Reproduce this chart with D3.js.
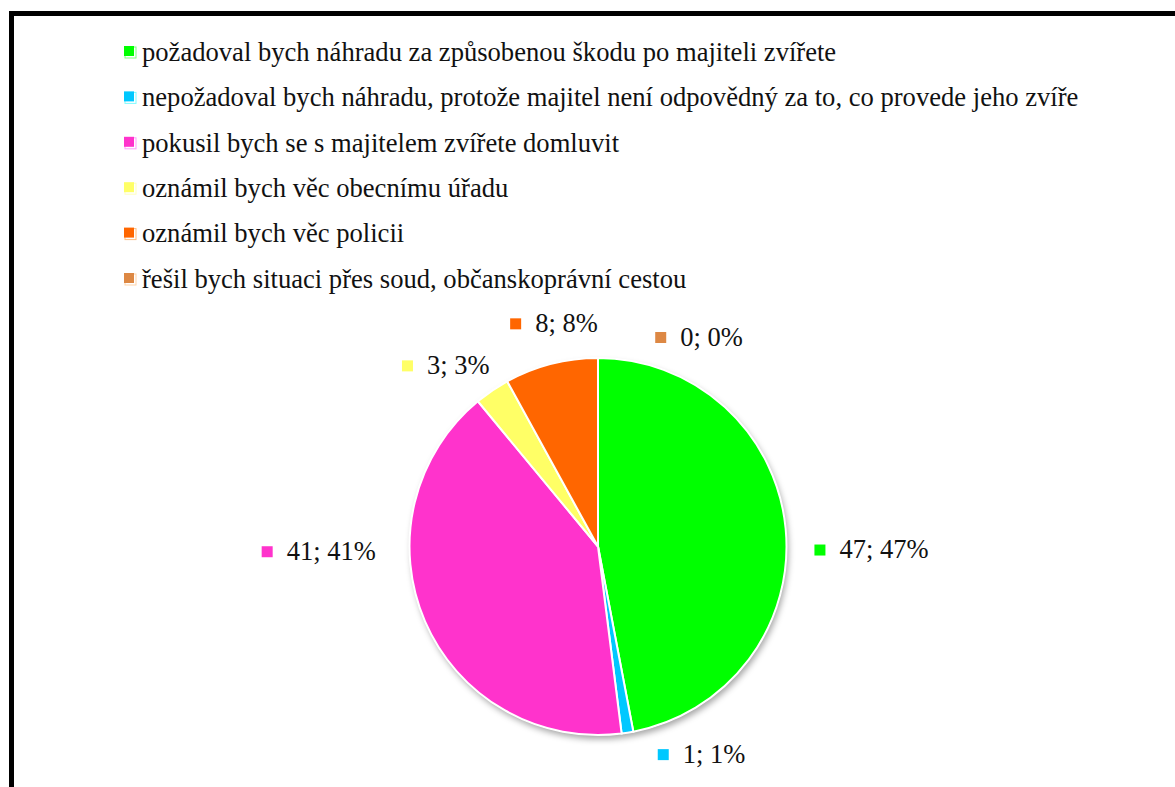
<!DOCTYPE html>
<html>
<head>
<meta charset="utf-8">
<script src="https://cdn.jsdelivr.net/npm/d3@7"></script>
<style>
  body { margin: 0; background: #fff; }
  svg { display: block; }
</style>
</head>
<body>
<div id="chart"></div>
<script>
// data
const categories = [
  "požadoval bych náhradu za způsobenou škodu po majiteli zvířete",
  "nepožadoval bych náhradu, protože majitel není odpovědný za to, co provede jeho zvíře",
  "pokusil bych se s majitelem zvířete domluvit",
  "oznámil bych věc obecnímu úřadu",
  "oznámil bych věc policii",
  "řešil bych situaci přes soud, občanskoprávní cestou"
];
const values = [47, 1, 41, 3, 8, 0];
const colors = ["#00ff00", "#00c8ff", "#ff33cc", "#ffff66", "#ff6600", "#dd8844"];
// label nudges (layout only), relative to the outer label arc
const labelNudge = [[41, 25], [67, -23], [-65, -88], [-21, 12], [14, 3], [101, 24]];

const W = 1175, H = 787;
const cx = 598, cy = 546.5, r = 188.5;
const FONT = "'Liberation Serif', Tinos, 'Times New Roman', 'DejaVu Serif', serif";

const svg = d3.select("#chart").append("svg")
  .attr("width", W).attr("height", H)
  .attr("font-family", FONT);

// frame
svg.append("rect")
  .attr("x", 11.5).attr("y", 13.5)
  .attr("width", 1300).attr("height", 1000)
  .attr("fill", "none").attr("stroke", "#000").attr("stroke-width", 5);

// legend
const legend = svg.append("g").attr("transform", "translate(124,52)");
const rows = legend.selectAll("g").data(categories).enter().append("g")
  .attr("transform", (d, i) => `translate(0,${i * 45.4})`);
rows.append("rect")
  .attr("x", 1).attr("y", -5).attr("width", 11).attr("height", 11)
  .attr("fill", "none").attr("stroke", (d, i) => d3.color(colors[i]).brighter(0.6)).attr("stroke-width", 1)
  .attr("opacity", 0.5);
rows.append("rect")
  .attr("x", 0).attr("y", -6).attr("width", 10).attr("height", 10)
  .attr("fill", (d, i) => colors[i]);
rows.append("text")
  .attr("x", 18).attr("dy", "0.33em")
  .attr("font-family", FONT)
  .attr("font-size", 26.6)
  .attr("fill", "#111")
  .text(d => d);

// shadow
const defs = svg.append("defs");
const f = defs.append("filter").attr("id", "shadow")
  .attr("x", "-20%").attr("y", "-20%").attr("width", "140%").attr("height", "140%");
f.append("feDropShadow").attr("dx", 2).attr("dy", 4).attr("stdDeviation", 3)
  .attr("flood-color", "#000").attr("flood-opacity", 0.35);

const pie = d3.pie().sort(null).value(d => d);
const arcs = pie(values);
const arc = d3.arc().innerRadius(0).outerRadius(r);
const labelArc = d3.arc().innerRadius(r + 45).outerRadius(r + 45);

const g = svg.append("g").attr("transform", `translate(${cx},${cy})`);
g.append("circle").attr("r", r).attr("fill", "#fff").attr("filter", "url(#shadow)");
g.selectAll("path").data(arcs).enter().append("path")
  .attr("d", arc)
  .attr("fill", (d, i) => colors[i])
  .attr("stroke", "#fff").attr("stroke-width", 2);

// data labels
const lab = g.selectAll("g.lab").data(arcs).enter().append("g").attr("class", "lab");
lab.each(function(d, i) {
  const sel = d3.select(this);
  const t = sel.append("text").attr("font-size", 26.5).attr("dy", "0.33em")
    .attr("font-family", FONT).attr("fill", "#111")
    .text(`${d.data}; ${Math.round(d.data / d3.sum(values) * 100)}%`);
  const tw = t.node().getComputedTextLength();
  const gw = 11 + 14 + tw;
  t.attr("x", -gw / 2 + 25);
  sel.append("rect").attr("x", -gw / 2).attr("y", -5).attr("width", 11).attr("height", 11)
    .attr("fill", colors[i]);
  const c = labelArc.centroid(d);
  sel.attr("transform", `translate(${c[0] + labelNudge[i][0]},${c[1] + labelNudge[i][1]})`);
});
</script>
</body>
</html>
